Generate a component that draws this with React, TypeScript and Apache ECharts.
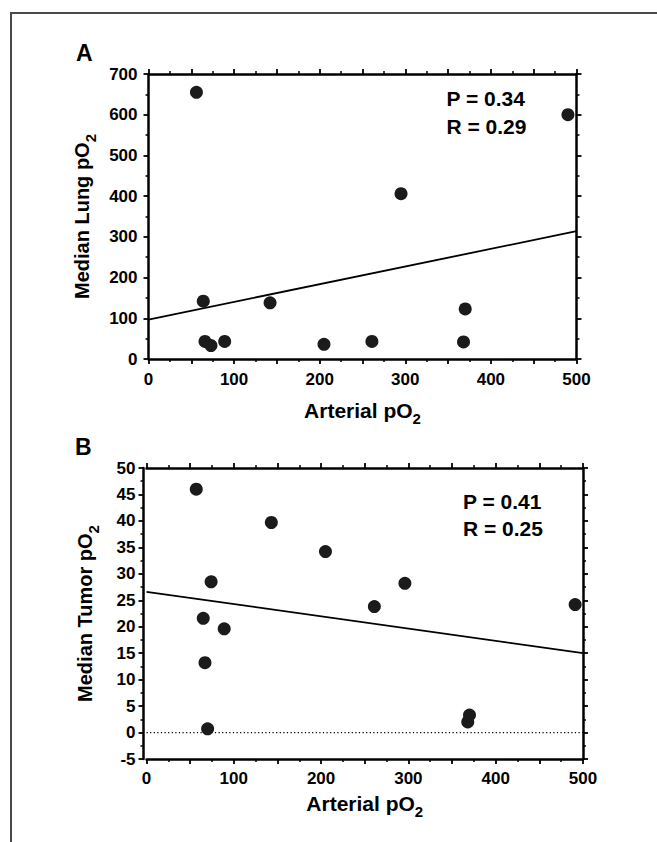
import React, { useEffect, useRef } from "react";
import * as echarts from "echarts";

// Panel A: arterial pO2 vs median lung pO2
const arterialA = [56, 64, 66, 73, 89, 142, 205, 261, 295, 368, 370, 490];
const lungA = [655, 142, 43, 33, 43, 138, 36, 43, 406, 42, 123, 600];
const fitA = [97, 314]; // regression value at x = 0 and x = 500

// Panel B: arterial pO2 vs median tumor pO2
const arterialB = [57, 65, 67, 70, 74, 89, 143, 205, 261, 296, 368, 370, 491];
const tumorB = [46.0, 21.6, 13.2, 0.7, 28.5, 19.6, 39.7, 34.2, 23.8, 28.2, 2.0, 3.3, 24.2];
const fitB = [26.6, 15.0];

const statsA = ["P = 0.34", "R = 0.29"];
const statsB = ["P = 0.41", "R = 0.25"];

const FONT = "'Liberation Sans', Arial, Helvetica, sans-serif";

function richName(fontSize: number) {
  return {
    fontSize,
    fontWeight: "bold" as const,
    color: "#000",
    fontFamily: FONT,
    rich: {
      a: { fontSize, fontWeight: "bold", color: "#000", fontFamily: FONT, lineHeight: 32 },
      s: { fontSize: 15, fontWeight: "bold", color: "#000", fontFamily: FONT, lineHeight: 15, verticalAlign: "bottom" },
    },
  };
}

const lineStyle = { color: "#000", width: 2.5 };
const tickStyle = { color: "#000", width: 1.8 };
const minorTickStyle = { color: "#000", width: 1.5 };
const labelFont = 17;

function xAxisPair(gridIndex: number, nameGap: number, margin: number) {
  const common = {
    type: "value",
    gridIndex,
    min: 0,
    max: 500,
    interval: 50,
    splitLine: { show: false },
    minorSplitLine: { show: false },
    axisLine: { show: true, onZero: false, lineStyle },
    axisTick: { show: true, inside: false, length: 5, lineStyle: tickStyle },
    minorTick: { show: true, splitNumber: 2, length: 3, lineStyle: minorTickStyle },
  };
  return [
    {
      ...common,
      position: "bottom",
      axisLabel: {
        show: true,
        margin,
        fontSize: labelFont,
        fontWeight: "bold",
        color: "#000",
        fontFamily: FONT,
        formatter: (v: number) => (v % 100 === 0 ? String(v) : ""),
      },
      name: "{a|Arterial pO}{s|2}",
      nameLocation: "middle",
      nameGap,
      nameTextStyle: richName(21),
    },
    { ...common, position: "top", axisLabel: { show: false } },
  ];
}

function yAxisPair(
  gridIndex: number,
  min: number,
  max: number,
  interval: number,
  offset: number,
  margin: number,
  name: string,
  nameGap: number
) {
  const common = {
    type: "value",
    gridIndex,
    min,
    max,
    interval,
    splitLine: { show: false },
    minorSplitLine: { show: false },
    axisLine: { show: true, onZero: false, lineStyle },
    axisTick: { show: true, inside: false, length: 5, lineStyle: tickStyle },
    minorTick: { show: true, splitNumber: 2, length: 3, lineStyle: minorTickStyle },
  };
  return [
    {
      ...common,
      position: "left",
      offset,
      axisLabel: { show: true, margin, fontSize: labelFont, fontWeight: "bold", color: "#000", fontFamily: FONT },
      name,
      nameLocation: "middle",
      nameGap,
      nameTextStyle: richName(20),
    },
    { ...common, position: "right", axisLabel: { show: false } },
  ];
}

function statText(lines: string[], x: number, y: number) {
  return lines.map((t, i) => ({
    type: "text",
    left: x,
    top: y + i * 27.8,
    style: { text: t, fill: "#000", font: `bold 21px ${FONT}` },
  }));
}

export default function App() {
  const ref = useRef<HTMLDivElement>(null);

  useEffect(() => {
    if (!ref.current) return;
    const chart = echarts.init(ref.current, undefined, { renderer: "svg" });
    const pairsA = arterialA.map((x, i) => [x, lungA[i]]);
    const pairsB = arterialB.map((x, i) => [x, tumorB[i]]);
    const dotStyle = { color: "#1b1b1b", opacity: 1 };

    chart.setOption({
      animation: false,
      backgroundColor: "#fff",
      grid: [
        { left: 148.5, top: 74, width: 428, height: 285, outerBoundsMode: "none", containLabel: false },
        { left: 146.5, top: 468, width: 436.5, height: 291, outerBoundsMode: "none", containLabel: false },
      ],
      xAxis: [...xAxisPair(0, 35, 12), ...xAxisPair(1, 28, 11)],
      yAxis: [
        ...yAxisPair(0, 0, 700, 100, 0, 11, "{a|Median Lung pO}{s|2}", 48),
        ...yAxisPair(1, -5, 50, 5, 3, 8, "{a|Median Tumor pO}{s|2}", 43),
      ],
      series: [
        {
          type: "line",
          xAxisIndex: 0,
          yAxisIndex: 0,
          data: [[0, fitA[0]], [500, fitA[1]]],
          symbol: "none",
          lineStyle: { color: "#000", width: 1.8 },
          silent: true,
          z: 2,
        },
        {
          type: "scatter",
          xAxisIndex: 0,
          yAxisIndex: 0,
          data: pairsA,
          symbolSize: 13,
          itemStyle: dotStyle,
          z: 3,
        },
        {
          type: "line",
          xAxisIndex: 2,
          yAxisIndex: 2,
          data: [[0, 0], [500, 0]],
          symbol: "none",
          lineStyle: { color: "#000", width: 1.2, type: [1.2, 2.4] },
          silent: true,
          z: 1,
        },
        {
          type: "line",
          xAxisIndex: 2,
          yAxisIndex: 2,
          data: [[0, fitB[0]], [500, fitB[1]]],
          symbol: "none",
          lineStyle: { color: "#000", width: 1.8 },
          silent: true,
          z: 2,
        },
        {
          type: "scatter",
          xAxisIndex: 2,
          yAxisIndex: 2,
          data: pairsB,
          symbolSize: 13,
          itemStyle: dotStyle,
          z: 3,
        },
      ],
      graphic: [
        { type: "line", shape: { x1: 10, y1: 13, x2: 657, y2: 13 }, style: { stroke: "#4a4a4a", lineWidth: 2 } },
        { type: "line", shape: { x1: 11, y1: 12, x2: 11, y2: 842 }, style: { stroke: "#4a4a4a", lineWidth: 2 } },
        { type: "text", left: 76, top: 41, style: { text: "A", fill: "#000", font: `bold 23px ${FONT}` } },
        { type: "text", left: 75, top: 435, style: { text: "B", fill: "#000", font: `bold 23px ${FONT}` } },
        ...statText(statsA, 446.5, 88),
        ...statText(statsB, 463, 490.5),
      ],
    });
    return () => chart.dispose();
  }, []);

  return (
    <div
      ref={ref}
      style={{ position: "fixed", left: 0, top: 0, width: 657, height: 842, background: "#fff" }}
    />
  );
}
